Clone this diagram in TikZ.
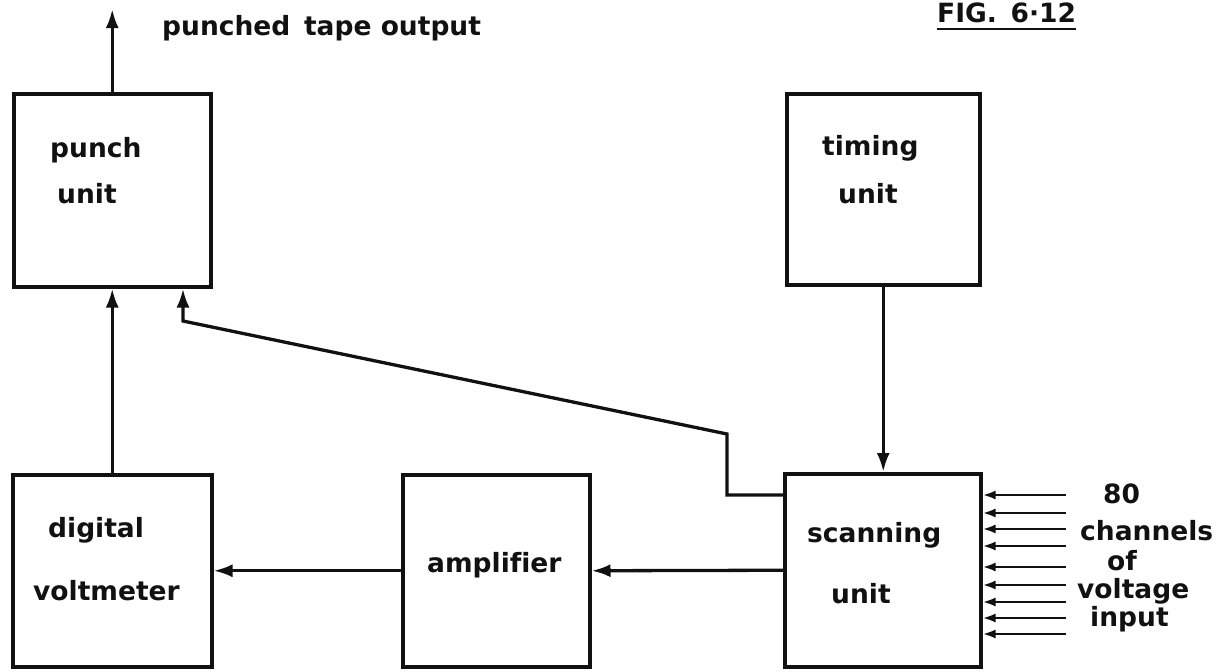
\documentclass[tikz,border=0pt]{standalone}
\usepackage{fontspec}
\setmainfont{DejaVu Sans}[Ligatures=NoCommon]
\usepackage{tikz}
\usetikzlibrary{arrows.meta,positioning}
\usepackage{xcolor}
\definecolor{ink}{HTML}{111111}
\definecolor{paper}{HTML}{FFFFFF}
\tikzset{
  >=Latex,
  every node/.style={text=ink},
  box/.style={draw=ink,line width=3.5pt,fill=paper,inner sep=0pt,anchor=north west},
  lbl/.style={font=\fontsize{26.5}{32}\selectfont\bfseries,inner sep=0pt,anchor=base west},
  arrow/.style={-{Latex[length=19pt,width=13pt]},line width=3.3pt,draw=ink},
  inarrow/.style={-{Latex[length=13pt,width=9pt]},line width=2.6pt,draw=ink},
  figline/.style={line width=2.6pt,draw=ink},
}

\begin{document}
\begin{tikzpicture}[x=1pt,y=-1pt]
\useasboundingbox (0,0) rectangle (1229,672);

\node[box,minimum width=197pt,minimum height=193pt] (punch) at (12,92) {};
\node[box,minimum width=193pt,minimum height=191pt] (timing) at (785,92) {};
\node[box,minimum width=199pt,minimum height=192pt] (volt) at (11,473) {};
\node[box,minimum width=187pt,minimum height=192pt] (amp) at (401,473) {};
\node[box,minimum width=196pt,minimum height=193pt] (scan) at (783,472) {};

\node[lbl] (punchname) at (50,157) {punch};
\node[lbl] (punchunit) at (57,203) {unit};
\node[lbl] (timingname) at (822,155) {timing};
\node[lbl] (timingunit) at (838,203) {unit};
\node[lbl] (voltname) at (48,537) {digital};
\node[lbl] (voltunit) at (33,600) {voltmeter};
\node[lbl] (ampname) at (427,572) {amplifier};
\node[lbl] (scanname) at (807,542) {scanning};
\node[lbl] (scanunit) at (831,603) {unit};

\node[lbl] (tapetext) at (162,35) {punched\, tape output};
\node[lbl] (fig) at (937,22) {FIG.\, 6·12};
\draw[figline] ([yshift=-7pt]fig.base west) -- ([yshift=-7pt]fig.base east);

\node[lbl] (in80) at (1103,503) {80};
\node[lbl] (inchan) at (1080,540) {channels};
\node[lbl] (inof) at (1107,570) {of};
\node[lbl] (involt) at (1077,598) {voltage};
\node[lbl] (ininput) at (1090,626) {input};

\coordinate[above=83pt of punch.north] (tapeout);
\coordinate (bendA) at (727,434);
\coordinate (bendB) at (183,321);

\draw[arrow] (punch.north) -- (tapeout);
\draw[arrow] (volt.north) -- (punch.south);
\draw[arrow] (timing.south) -- (timing.south |- scan.north);
\draw[arrow] (scan.west) -- (amp.east);
\draw[arrow] (amp.west) -- (volt.east);
\draw[arrow] ([yshift=-23pt]scan.north west) -| (bendA) -- (bendB) -- (bendB |- punch.south);

\foreach \dy in {23,41,57,74,95,113,130,146,162}
  \draw[inarrow] ([xshift=83pt,yshift=-\dy pt]scan.north east) -- ([yshift=-\dy pt]scan.north east);

\end{tikzpicture}
\end{document}
